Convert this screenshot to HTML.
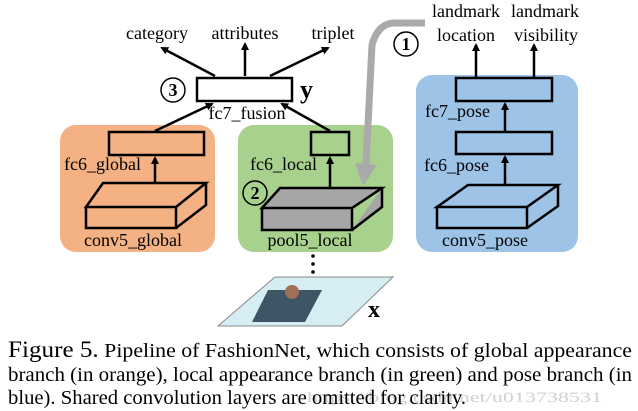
<!DOCTYPE html>
<html><head><style>
body{margin:0;background:#fff;}
text{font-family:"Liberation Serif","Times New Roman",serif;}
</style></head><body>
<svg width="638" height="411" viewBox="0 0 638 411" xmlns="http://www.w3.org/2000/svg" font-family="Liberation Serif, serif" style="display:block">
<defs>
<marker id="a" markerWidth="8" markerHeight="8" refX="6" refY="4" orient="auto" markerUnits="userSpaceOnUse"><path d="M0,0 L8,4 L0,8 Z" fill="#000"/></marker>
</defs>
<rect x="60" y="125" width="155" height="127" rx="16" fill="#f4b183"/>
<rect x="238" y="125" width="155" height="127" rx="16" fill="#a9d18e"/>
<rect x="416" y="75" width="162" height="177" rx="16" fill="#9dc3e6"/>

<path d="M425,23 L395,23 Q378,23 372,45 L366,165" stroke="#aaa" stroke-width="7" fill="none"/>
<path d="M355,163 L377,165 L363,186 Z" fill="#aaa"/>

<g stroke="#000" stroke-width="2.5" fill="none">
<rect x="197" y="78" width="95" height="23" fill="#fff"/>
<line x1="215" y1="76" x2="162" y2="48" marker-end="url(#a)"/>
<line x1="245" y1="76" x2="245" y2="44" marker-end="url(#a)"/>
<line x1="270" y1="76" x2="328" y2="48" marker-end="url(#a)"/>
<line x1="155" y1="131" x2="212" y2="104" marker-end="url(#a)"/>
<line x1="330" y1="131" x2="282" y2="104" marker-end="url(#a)"/>
<rect x="109" y="132" width="95" height="23"/>
<line x1="155" y1="183" x2="155" y2="158" marker-end="url(#a)"/>
<path d="M86,207 L103,183 L206,183 L176,207 Z M86,207 H176 V228 H86 Z M176,228 L206,205 V183"/>
<rect x="311" y="132" width="38" height="23"/>
<line x1="330" y1="188" x2="330" y2="158" marker-end="url(#a)"/>
<path d="M262,208 L280,188 L382,188 L352,208 Z M262,208 H352 V230 H262 Z M352,230 L382,207 V188" fill="#a6a6a6"/>
<rect x="456" y="78" width="96" height="23"/>
<rect x="456" y="132" width="96" height="22"/>
<line x1="505" y1="131" x2="505" y2="104" marker-end="url(#a)"/>
<line x1="505" y1="185" x2="505" y2="157" marker-end="url(#a)"/>
<line x1="476" y1="77" x2="476" y2="45" marker-end="url(#a)"/>
<line x1="534" y1="77" x2="534" y2="45" marker-end="url(#a)"/>
<path d="M437,207 L468,185 L558,185 L527,207 Z M437,207 H527 V228 H437 Z M527,228 L558,206 V185"/>
<circle cx="173" cy="90" r="12" stroke-width="1.5" fill="#fff"/>
<circle cx="255" cy="193" r="12" stroke-width="1.5"/>
<circle cx="406" cy="44" r="12" stroke-width="1.5" fill="#fff"/>
</g>
<circle cx="313" cy="256" r="1.8"/><circle cx="313" cy="264" r="1.8"/><circle cx="313" cy="272" r="1.8"/>
<polygon points="275,277 393,277 342,326 218,326" fill="#d6eef3" stroke="#888"/>
<polygon points="268,290 322,290 305,322 252,322" fill="#3e5566"/>
<circle cx="292" cy="292" r="7" fill="#a07058"/>
<g font-size="18" fill="#000">
<text x="157" y="39" text-anchor="middle">category</text>
<text x="245" y="39" text-anchor="middle">attributes</text>
<text x="333" y="39" text-anchor="middle">triplet</text>
<text x="247" y="119" text-anchor="middle">fc7_fusion</text>
<text x="64" y="170">fc6_global</text>
<text x="133" y="246" text-anchor="middle">conv5_global</text>
<text x="250" y="170">fc6_local</text>
<text x="310" y="246" text-anchor="middle">pool5_local</text>
<text x="425" y="117">fc7_pose</text>
<text x="424" y="171">fc6_pose</text>
<text x="485" y="246" text-anchor="middle">conv5_pose</text>
<text x="466" y="17" text-anchor="middle">landmark</text>
<text x="545" y="17" text-anchor="middle">landmark</text>
<text x="466" y="41" text-anchor="middle">location</text>
<text x="546" y="41" text-anchor="middle">visibility</text>
</g>
<g font-size="18" font-weight="bold" text-anchor="middle">
<text x="173" y="96">3</text><text x="255" y="199">2</text><text x="406" y="50">1</text>
</g>
<text x="300" y="98" font-size="26" font-weight="bold">y</text>
<text x="368" y="317" font-size="24" font-weight="bold">x</text>
<text x="307" y="402" font-size="15" fill="#d0d0d0" textLength="295" lengthAdjust="spacingAndGlyphs">https://blog.csdn.net/u013738531</text>
<g font-size="20">
<text x="8" y="357" textLength="624" lengthAdjust="spacingAndGlyphs"><tspan font-size="23">Figure 5.</tspan> Pipeline of FashionNet, which consists of global appearance</text>
<text x="8" y="381" textLength="624" lengthAdjust="spacingAndGlyphs">branch (in orange), local appearance branch (in green) and pose branch (in</text>
<text x="8" y="404" textLength="458" lengthAdjust="spacingAndGlyphs">blue). Shared convolution layers are omitted for clarity.</text>
</g>
</svg>
</body></html>
